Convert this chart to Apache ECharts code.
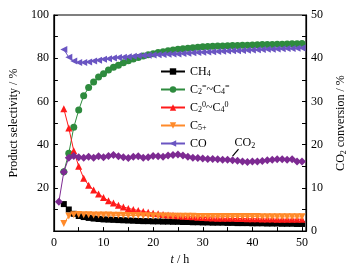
<!DOCTYPE html>
<html>
<head>
<meta charset="utf-8">
<script src="https://cdn.jsdelivr.net/npm/echarts@6/dist/echarts.min.js"></script>
<style>
  html, body { margin: 0; padding: 0; background: #fff; }
  #main { width: 356px; height: 271px; }
</style>
</head>
<body>
<div id="main"></div>
<script>
// time on stream, h
var hours = [];
for (var i = 1; i <= 50; i++) hours.push(i);

// selectivity, % (left axis)  -- first hour has no product data
var ch4 = [null, 12.5, 10.0, 8.0, 7.0, 6.5, 6.1, 5.8, 5.6, 5.4,
  5.3, 5.2, 5.1, 5.0, 4.9, 4.8, 4.7, 4.6, 4.6, 4.5,
  4.5, 4.4, 4.4, 4.3, 4.3, 4.2, 4.2, 4.1, 4.1, 4.0,
  4.0, 3.9, 3.9, 3.9, 3.8, 3.8, 3.7, 3.7, 3.7, 3.6,
  3.6, 3.6, 3.5, 3.5, 3.5, 3.4, 3.4, 3.4, 3.3, 3.3];
var olefins = [null, 27.5, 36.0, 48.0, 56.0, 62.6, 66.4, 69.0, 71.3, 72.8,
  74.6, 75.8, 76.8, 77.9, 78.8, 79.6, 80.3, 81.0, 81.6, 82.1,
  82.6, 83.0, 83.4, 83.8, 84.1, 84.4, 84.6, 84.9, 85.1, 85.3,
  85.4, 85.5, 85.6, 85.7, 85.8, 85.9, 85.9, 86.0, 86.0, 86.1,
  86.2, 86.3, 86.3, 86.4, 86.5, 86.5, 86.6, 86.7, 86.7, 86.8];
var paraffins = [null, 56.6, 47.7, 37.2, 30.0, 24.5, 21.2, 19.0, 17.2, 15.6,
  14.0, 13.0, 12.0, 11.2, 10.5, 10.0, 9.5, 9.1, 8.7, 8.3,
  8.0, 7.7, 7.5, 7.3, 7.1, 6.9, 6.7, 6.6, 6.4, 6.3,
  6.2, 6.1, 6.0, 6.0, 5.9, 5.9, 5.8, 5.8, 5.7, 5.7,
  5.7, 5.6, 5.6, 5.6, 5.5, 5.5, 5.5, 5.5, 5.5, 5.5];
var c5plus = [null, 3.5, 7.0, 7.6, 7.7, 7.6, 7.6, 7.5, 7.5, 7.4,
  7.4, 7.3, 7.3, 7.3, 7.2, 7.2, 7.2, 7.1, 7.1, 7.0,
  7.0, 7.0, 7.0, 6.9, 6.9, 6.9, 6.9, 6.9, 6.8, 6.8,
  6.8, 6.8, 6.8, 6.8, 6.7, 6.7, 6.7, 6.7, 6.7, 6.7,
  6.7, 6.6, 6.6, 6.6, 6.6, 6.6, 6.6, 6.6, 6.6, 6.6];
var co = [null, 84.0, 80.5, 78.7, 78.0, 78.0, 78.3, 78.7, 79.1, 79.5,
  79.8, 80.1, 80.3, 80.5, 80.7, 80.9, 81.1, 81.3, 81.4, 81.5,
  81.6, 81.7, 81.8, 81.9, 82.0, 82.2, 82.3, 82.5, 82.6, 82.8,
  82.9, 83.0, 83.1, 83.2, 83.3, 83.4, 83.5, 83.6, 83.7, 83.8,
  83.9, 84.0, 84.1, 84.2, 84.3, 84.4, 84.5, 84.5, 84.6, 84.7];
// CO2 conversion, % (right axis)
var co2Conv = [6.8, 13.7, 17.0, 17.4, 17.1, 17.0, 17.2, 17.0, 17.3, 17.1,
  17.4, 17.6, 17.3, 17.1, 16.9, 17.2, 17.3, 17.0, 17.1, 17.4,
  17.3, 17.2, 17.5, 17.6, 17.7, 17.5, 17.2, 17.0, 16.9, 16.8,
  16.7, 16.7, 16.6, 16.5, 16.5, 16.4, 16.3, 16.1, 16.0, 16.1,
  16.1, 16.2, 16.4, 16.5, 16.6, 16.6, 16.5, 16.6, 16.1, 16.1];

var serif = '"Liberation Serif", "DejaVu Serif", serif';

function pairs(vals) {
  return hours.map(function (t, i) { return [t, vals[i]]; });
}

var rich = {
  n: { fontFamily: serif, fontSize: 12, color: '#000' },
  sub: { fontFamily: serif, fontSize: 8, color: '#000', verticalAlign: 'bottom', padding: [6, 0, 0, 0] },
  sup: { fontFamily: serif, fontSize: 8, color: '#000', verticalAlign: 'top', padding: [0, 0, 5, 0] },
  i: { fontFamily: serif, fontSize: 12, color: '#000', fontStyle: 'italic' }
};

var legendText = {
  'CH4': '{n|CH}{sub|4}',
  'C2=-C4=': '{n|C}{sub|2}{sup|=}{n|~C}{sub|4}{sup|=}',
  'C20-C40': '{n|C}{sub|2}{sup|0}{n|~C}{sub|4}{sup|0}',
  'C5+': '{n|C}{sub|5+}',
  'CO': '{n|CO}'
};

function lineSeries(name, vals, color, symbol, rotate, size) {
  return {
    name: name, type: 'line', yAxisIndex: 0,
    data: pairs(vals),
    symbol: symbol, symbolSize: size, symbolRotate: rotate,
    connectNulls: false,
    lineStyle: { color: color, width: 1 },
    itemStyle: { color: color },
    emphasis: { disabled: true },
    z: 3
  };
}

var axisCommon = {
  axisLine: { show: true, lineStyle: { color: '#000', width: 1.2 } },
  axisTick: { show: true, inside: true, length: 4, lineStyle: { color: '#000' } },
  minorTick: { show: true, splitNumber: 2, length: 4, lineStyle: { color: '#000' } },
  splitLine: { show: false },
  axisLabel: { color: '#000', fontFamily: serif, fontSize: 12 },
  nameTextStyle: { color: '#000', fontFamily: serif, fontSize: 12, rich: rich }
};

var chart = echarts.init(document.getElementById('main'));
var option = {
  animation: false,
  grid: { left: 44, right: 49, top: 15, bottom: 33, show: true, borderColor: '#000', borderWidth: 1.2 },
  legend: {
    data: ['CH4', 'C2=-C4=', 'C20-C40', 'C5+', 'CO'],
    orient: 'vertical',
    left: 155, top: 60,
    itemWidth: 24, itemHeight: 8, itemGap: 5,
    formatter: function (name) { return legendText[name]; },
    textStyle: { rich: rich, lineHeight: 13 }
  },
  xAxis: Object.assign({}, axisCommon, {
    type: 'value', min: 0, max: 50.8, interval: 10,
    name: '{i|t}{n| / h}', nameLocation: 'middle', nameGap: 20,
    axisLabel: Object.assign({}, axisCommon.axisLabel, { margin: 6, showMaxLabel: false })
  }),
  yAxis: [
    Object.assign({}, axisCommon, {
      type: 'value', min: 0, max: 100, interval: 20, position: 'left',
      name: 'Product selectivity / %', nameLocation: 'middle', nameGap: 29,
      axisLabel: Object.assign({}, axisCommon.axisLabel, { margin: 5, showMinLabel: false })
    }),
    Object.assign({}, axisCommon, {
      type: 'value', min: 0, max: 50, interval: 10, position: 'right',
      name: '{n|CO}{sub|2}{n| conversion / %}', nameLocation: 'middle', nameGap: 28, nameRotate: 90,
      axisLabel: Object.assign({}, axisCommon.axisLabel, { margin: 5 })
    })
  ],
  series: [
    lineSeries('CH4', ch4, '#000000', 'rect', 0, 6),
    lineSeries('C2=-C4=', olefins, '#2e8b3e', 'circle', 0, 7),
    lineSeries('C20-C40', paraffins, '#ff1a1a', 'triangle', 0, 7),
    lineSeries('C5+', c5plus, '#ff8a2a', 'triangle', 180, 7),
    lineSeries('CO', co, '#6a55c2', 'triangle', 90, 7),
    {
      name: 'CO2', type: 'line', yAxisIndex: 1,
      data: pairs(co2Conv),
      symbol: 'diamond', symbolSize: 8,
      lineStyle: { color: '#7d2a92', width: 1 },
      itemStyle: { color: '#7d2a92' },
      emphasis: { disabled: true },
      z: 4
    }
  ]
};
chart.setOption(option);

// CO2 annotation pointing at the conversion curve
var anchor = chart.convertToPixel({ xAxisIndex: 0, yAxisIndex: 1 }, [36, co2Conv[35]]);
chart.setOption({
  graphic: [
    { type: 'polyline', z: 100,
      shape: { points: [[anchor[0], anchor[1] - 4], [anchor[0] + 6, anchor[1] - 11]] },
      style: { stroke: '#000', lineWidth: 1.2, fill: null } },
    { type: 'text', z: 100, x: anchor[0] + 2, y: anchor[1] - 24,
      style: { rich: rich, text: '{n|CO}{sub|2}', fill: '#000' } }
  ]
});
</script>
</body>
</html>
